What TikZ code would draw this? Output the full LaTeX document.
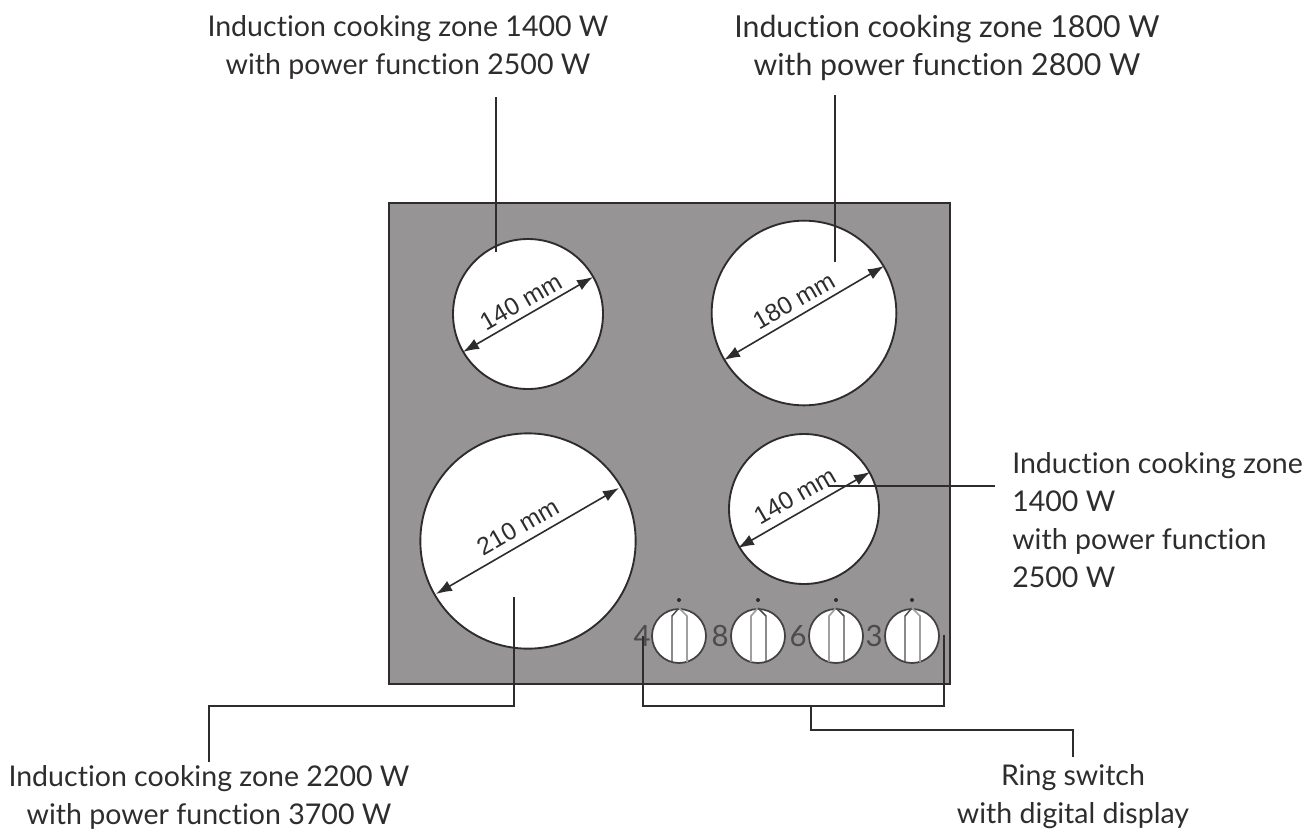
\documentclass[tikz,border=0pt]{standalone}
\usepackage{fontspec}
\setmainfont[Ligatures=NoCommon]{Lato}
\newfontfamily\dimfont{Liberation Sans}
\usetikzlibrary{arrows.meta}
\definecolor{plate}{HTML}{979495}
\definecolor{ink}{HTML}{2E2C2D}
\tikzset{
  x=0.75pt,y=-0.75pt,
  label/.style={font=\fontsize{21.4}{28.5}\selectfont,text=ink,inner sep=0pt,align=center},
  widelabel/.style={font=\fontsize{22.7}{28.5}\selectfont,text=ink,inner sep=0pt,align=center},
  rlabel/.style={label,anchor=west,align=left},
  leader/.style={draw=ink,line width=1.1pt},
  zone/.style={circle,draw=ink,fill=white,line width=1.4pt,inner sep=0pt,minimum size=#1},
  knob/.style={circle,draw=ink!90,fill=white,line width=1.3pt,inner sep=0pt,minimum size=40.5pt},
  dim/.style={draw=ink,line width=1.2pt,{Latex[length=12pt,width=8.5pt]}-{Latex[length=12pt,width=8.5pt]}},
  dimtext/.style={font=\dimfont\fontsize{18.5}{20}\selectfont,text=ink,inner sep=0pt,rotate=30},
  digit/.style={font=\fontsize{22}{22}\selectfont,text=ink!85,inner sep=0pt},
  grip/.style={draw=ink!85,line width=1.1pt},
  gripl/.style={draw=ink!45,line width=1.3pt},
  tick/.style={circle,fill=ink,inner sep=0pt,minimum size=3pt}
}
\begin{document}
\begin{tikzpicture}
\useasboundingbox (0,0) rectangle (1306,832);
\node[draw=ink,fill=plate,line width=1.1pt,minimum width=420.75pt,minimum height=360.75pt,inner sep=0pt] (plate) at (669.5,443.5) {};
\node[zone=112.5pt] (z1) at (528,314) {};
\node[zone=138.5pt] (z2) at (804,313) {};
\node[zone=161.5pt] (z3) at (528,541) {};
\node[zone=112.5pt] (z4) at (804,509) {};
% dimension arrows
\coordinate (a1) at (463,352); \coordinate (b1) at (593,277);
\coordinate (a2) at (724,360); \coordinate (b2) at (884,266);
\coordinate (a3) at (436,594); \coordinate (b3) at (619,488);
\coordinate (a4) at (738,548); \coordinate (b4) at (870,472);
\draw[dim] (a1) -- (b1);
\draw[dim] (a2) -- (b2);
\draw[dim] (a3) -- (b3);
\draw[dim] (a4) -- (b4);
\node[dimtext] (d1) at (521,302) {140 mm};
\node[dimtext] (d2) at (794,301) {180 mm};
\node[dimtext] (d3) at (518,527) {210 mm};
\node[dimtext] (d4) at (795,496) {140 mm};
% knobs
\foreach \n/\x/\lc/\rc in {1/679/grip/gripl,2/758/gripl/grip,3/836/gripl/grip,4/912/grip/gripl}{
  \node[knob] (k\n) at (\x,636) {};
  \node[tick] (t\n) at (\x,600) {};
  \draw[\lc] (\x-7,662) -- (\x-7,616) -- (\x,608);
  \draw[\rc] (\x+8,662) -- (\x+8,616) -- (\x,608);
}
\node[digit] (n1) at (642,636) {4};
\node[digit] (n2) at (720,636) {8};
\node[digit] (n3) at (798,636) {6};
\node[digit] (n4) at (874,636) {3};
% labels
\node[label] (l1) at (408,47) {Induction cooking zone 1400 W\\with power function 2500 W};
\node[widelabel] (l2) at (947,48) {Induction cooking zone 1800 W\\with power function 2800 W};
\node[rlabel] (l4) at (1012,520) {Induction cooking zone\\1400 W\\with power function\\2500 W};
\node[label] (l3) at (209,797) {Induction cooking zone 2200 W\\with power function 3700 W};
\node[label] (l5) at (1073,797) {Ring switch\\with digital display};
% leaders
\coordinate (e1) at (496,252);
\coordinate (e2) at (835,262);
\coordinate (e3) at (514,597);
\coordinate (e4) at (828,486);
\coordinate (s1) at (496,97);
\coordinate (s2) at (835,95);
\coordinate (s3) at (209,762);
\coordinate (s4) at (995,486);
\coordinate (s5) at (1073,757);
\coordinate (rl) at (643,636);
\coordinate (rr) at (944,635);
\coordinate (rm) at (811,706);
\draw[leader] (s1) -- (e1);
\draw[leader] (s2) -- (e2);
\draw[leader] (s4) -- (e4);
\draw[leader] (e3) |- (s3 |- 0,706) -- (s3);
\draw[leader] (rl) |- (rr |- 0,706) -- (rr);
\draw[leader] (rm) |- (s5 |- 0,730) -- (s5);
\end{tikzpicture}
\end{document}
